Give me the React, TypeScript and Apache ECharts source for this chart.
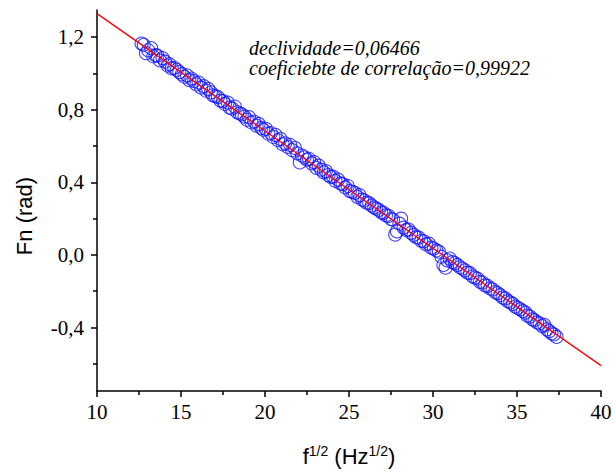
import React, { useEffect, useRef } from "react";
import * as echarts from "echarts";

const xTicks = [10, 15, 20, 25, 30, 35, 40];
const yMajorTicks = [-0.4, 0, 0.4, 0.8, 1.2];
const yMinorTicks = [-0.6, -0.2, 0.2, 0.6, 1.0];
const fitX = [10, 40];
const fitY = [1.33, -0.61];
const yTitle = "Fn (rad)";
const annotationLines = ["declividade=0,06466", "coeficiebte de correlação=0,99922"];

const dataX = [
  12.65, 12.78, 12.92, 13.05, 13.22, 13.35, 13.48, 13.6, 13.75, 13.9,
  14.05, 14.2, 14.3, 14.45, 14.6, 14.75, 14.9, 15.05, 15.2, 15.35,
  15.5, 15.62, 15.78, 15.92, 16.05, 16.2, 16.35, 16.5, 16.62, 16.78,
  16.9, 17.05, 17.2, 17.35, 17.5, 17.62, 17.78, 17.9, 18.05, 18.2,
  18.35, 18.5, 18.62, 18.78, 18.92, 19.05, 19.2, 19.35, 19.5, 19.62,
  19.78, 19.9, 20.05, 20.2, 20.35, 20.5, 20.62, 20.78, 20.92, 21.05,
  21.2, 21.35, 21.5, 21.62, 21.78, 21.92, 22.07, 22.2, 22.35, 22.5,
  22.62, 22.78, 22.92, 23.05, 23.2, 23.35, 23.5, 23.62, 23.78, 23.92,
  24.05, 24.2, 24.35, 24.5, 24.62, 24.78, 24.92, 25.05, 25.2, 25.35,
  25.5, 25.62, 25.78, 25.92, 26.05, 26.2, 26.35, 26.5, 26.62, 26.78,
  26.92, 27.05, 27.2, 27.35, 27.5, 27.62, 27.75, 27.85, 28.0, 28.1,
  28.25, 28.4, 28.55, 28.7, 28.85, 29.0, 29.15, 29.3, 29.45, 29.6,
  29.75, 29.9, 30.05, 30.2, 30.35, 30.5, 30.62, 30.75, 30.85, 31.0,
  31.15, 31.3, 31.45, 31.6, 31.75, 31.9, 32.05, 32.2, 32.35, 32.5,
  32.65, 32.8, 32.95, 33.1, 33.25, 33.4, 33.55, 33.7, 33.85, 34.0,
  34.15, 34.3, 34.45, 34.6, 34.75, 34.9, 35.05, 35.2, 35.35, 35.5,
  35.62, 35.78, 35.92, 36.05, 36.2, 36.35, 36.5, 36.62, 36.78, 36.92,
  37.05, 37.2, 37.35,
];

const dataY = [
  1.165, 1.158, 1.112, 1.128, 1.14, 1.095, 1.101, 1.098, 1.072, 1.085,
  1.065, 1.044, 1.052, 1.028, 1.031, 1.02, 1.008, 0.996, 0.982, 0.99,
  0.963, 0.972, 0.958, 0.94, 0.95, 0.922, 0.93, 0.905, 0.915, 0.896,
  0.88, 0.875, 0.87, 0.85, 0.848, 0.832, 0.84, 0.812, 0.806, 0.818,
  0.786, 0.78, 0.775, 0.762, 0.745, 0.76, 0.73, 0.735, 0.712, 0.722,
  0.7, 0.69, 0.695, 0.668, 0.672, 0.65, 0.662, 0.632, 0.64, 0.61,
  0.615, 0.596, 0.606, 0.578, 0.59, 0.56, 0.51, 0.548, 0.538, 0.525,
  0.53, 0.505, 0.512, 0.48, 0.492, 0.47, 0.455, 0.462, 0.44, 0.43,
  0.432, 0.408, 0.415, 0.394, 0.39, 0.372, 0.38, 0.352, 0.348, 0.342,
  0.32, 0.33, 0.305, 0.3, 0.288, 0.285, 0.272, 0.262, 0.255, 0.248,
  0.235, 0.232, 0.218, 0.215, 0.198, 0.195, 0.112, 0.13, 0.172, 0.2,
  0.15, 0.138, 0.14, 0.122, 0.11, 0.098, 0.095, 0.078, 0.075, 0.058,
  0.062, 0.04, 0.035, 0.025, 0.018, -0.01, -0.055, -0.07, -0.03, -0.02,
  -0.04, -0.045, -0.055, -0.068, -0.075, -0.085, -0.098, -0.1, -0.118, -0.125,
  -0.13, -0.148, -0.152, -0.168, -0.17, -0.185, -0.19, -0.205, -0.21, -0.222,
  -0.235, -0.24, -0.255, -0.262, -0.27, -0.285, -0.292, -0.3, -0.31, -0.318,
  -0.335, -0.34, -0.355, -0.36, -0.372, -0.378, -0.392, -0.385, -0.41, -0.42,
  -0.432, -0.438, -0.452,
];

const SERIF = "Liberation Serif";
const SANS = "Liberation Sans";

export default function App() {
  const ref = useRef<HTMLDivElement>(null);
  useEffect(() => {
    if (!ref.current) return;
    const chart = echarts.init(ref.current, undefined, { renderer: "svg" });
    const points = dataX.map((x, i) => [x, dataY[i]]);
    const fit = fitX.map((x, i) => [x, fitY[i]]);
    const fmt = (v: number) => (Math.abs(v) < 1e-9 ? "0,0" : v.toFixed(1).replace(".", ","));
    chart.setOption({
      animation: false,
      backgroundColor: "#ffffff",
      grid: { left: 97, top: 10, width: 504, height: 381, containLabel: false },
      xAxis: {
        type: "value",
        min: xTicks[0],
        max: xTicks[xTicks.length - 1],
        interval: 5,
        name: "{b|f}{s|1/2}{b| (Hz}{s|1/2}{b|)}",
        nameLocation: "middle",
        nameGap: 53,
        nameTextStyle: {
          rich: {
            b: { fontFamily: SANS, fontSize: 22, color: "#000" },
            s: { fontFamily: SANS, fontSize: 14, color: "#000", padding: [0, 0, 11, 0] },
          },
        },
        axisLine: { show: true, onZero: false, lineStyle: { color: "#000", width: 1.5 } },
        axisTick: { show: true, inside: false, length: 6, lineStyle: { color: "#000", width: 1.5 } },
        minorTick: { show: true, splitNumber: 2, length: 4, lineStyle: { color: "#000", width: 1.5 } },
        axisLabel: { color: "#000", fontFamily: SERIF, fontSize: 21, margin: 10 },
        splitLine: { show: false },
        minorSplitLine: { show: false },
      },
      yAxis: [
        {
          type: "value",
          min: -0.75,
          max: 1.35,
          axisLine: { show: true, onZero: false, lineStyle: { color: "#000", width: 1.5 } },
          axisTick: { show: true, inside: false, length: 6, customValues: yMajorTicks, lineStyle: { color: "#000", width: 1.5 } },
          axisLabel: { color: "#000", fontFamily: SERIF, fontSize: 21, margin: 13, customValues: yMajorTicks, formatter: fmt },
          splitLine: { show: false },
        },
        {
          type: "value",
          min: -0.75,
          max: 1.35,
          position: "left",
          axisLine: { show: false },
          axisTick: { show: true, inside: false, length: 4, customValues: yMinorTicks, lineStyle: { color: "#000", width: 1.5 } },
          axisLabel: { show: false, customValues: yMinorTicks },
          splitLine: { show: false },
        },
      ],
      graphic: [
        {
          type: "text",
          x: 24,
          y: 216,
          rotation: Math.PI / 2,
          style: { text: yTitle, fontFamily: SANS, fontSize: 22, fill: "#000", align: "center", verticalAlign: "middle" },
        },
        {
          type: "text",
          left: 249,
          top: 38,
          style: { text: annotationLines[0], fontFamily: SERIF, fontStyle: "italic", fontSize: 20, fill: "#000" },
        },
        {
          type: "text",
          left: 249,
          top: 58,
          style: { text: annotationLines[1], fontFamily: SERIF, fontStyle: "italic", fontSize: 20, fill: "#000" },
        },
      ],
      series: [
        {
          type: "scatter",
          data: points,
          symbol: "circle",
          symbolSize: 13,
          itemStyle: { color: "rgba(0,0,0,0)", borderColor: "#1414ff", borderWidth: 1.1 },
          z: 2,
        },
        {
          type: "line",
          data: fit,
          symbol: "none",
          lineStyle: { color: "#ff0000", width: 1.3 },
          z: 3,
        },
      ],
    });
    return () => chart.dispose();
  }, []);
  return <div ref={ref} style={{ width: 616, height: 473, position: "absolute", left: 0, top: 0 }} />;
}
